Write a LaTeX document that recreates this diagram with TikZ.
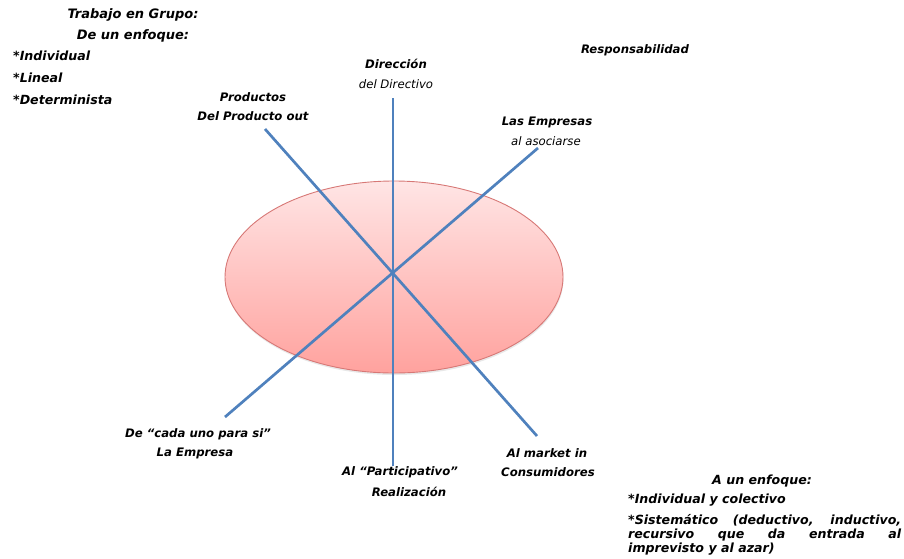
\documentclass[tikz,border=0pt]{standalone}
\usepackage{fontspec}
\setmainfont{DejaVu Sans}
\usetikzlibrary{shapes.geometric,shadows}
\definecolor{spoke}{RGB}{79,129,189}
\definecolor{elltop}{RGB}{255,229,229}
\definecolor{ellbot}{RGB}{255,162,158}
\definecolor{ellborder}{RGB}{215,120,118}
\begin{document}
\begin{tikzpicture}[x=1pt,y=-1pt,
  lbl/.style={inner sep=0pt,font=\fontsize{11.7}{13}\selectfont\bfseries\itshape},
  lblit/.style={inner sep=0pt,font=\fontsize{11.7}{13}\selectfont\itshape},
  lst/.style={inner sep=0pt,anchor=west,font=\fontsize{12.6}{14}\selectfont\bfseries\itshape},
  spokeline/.style={draw=spoke,line width=2.7pt}]
\useasboundingbox (0,0) rectangle (904,558);
% ellipse
\node (ell) [ellipse,minimum width=338pt,minimum height=192pt,inner sep=0pt,
  draw=ellborder,line width=0.9pt,top color=elltop,bottom color=ellbot,
  drop shadow={opacity=0.18,shadow xshift=0.5pt,shadow yshift=-2pt}] at (394,277) {};
% spokes
\coordinate (c) at (393,273);
\coordinate (vt) at (393,98);
\coordinate (vb) at (393,466);
\coordinate (at) at (265,129);
\coordinate (ab) at (537,436);
\coordinate (bt) at (538,148);
\coordinate (bb) at (225,417);
\draw[spokeline] (vt) -- (vb);
\draw[spokeline] (at) -- (ab);
\draw[spokeline] (bt) -- (bb);
% top-left
\node[lbl,font=\fontsize{13}{14}\selectfont\bfseries\itshape] (t1) at (133,15) {Trabajo en Grupo:};
\node[lbl,font=\fontsize{13}{14}\selectfont\bfseries\itshape] (t2) at (133,36) {De un enfoque:};
\node[lst] (l1) at (13,56) {*Individual};
\node[lst] (l2) at (13,78) {*Lineal};
\node[lst] (l3) at (13,100) {*Determinista};
% labels
\node[lbl] (p1) at (253,97) {Productos};
\node[lbl] (p2) at (253,116) {Del Producto out};
\node[lbl] (d1) at (396,64) {Dirección};
\node[lblit] (d2) at (396,84) {del Directivo};
\node[lbl] (r1) at (635,50) {Responsabilidad};
\node[lbl] (e1) at (547,122) {Las Empresas};
\node[lblit] (e2) at (546,141) {al asociarse};
\node[lbl] (c1) at (198,434) {De “cada uno para si”};
\node[lbl] (c2) at (195,453) {La Empresa};
\node[lbl] (pa1) at (400,472) {Al “Participativo”};
\node[lbl] (pa2) at (409,492) {Realización};
\node[lbl] (m1) at (547,453) {Al market in};
\node[lbl] (m2) at (548,472) {Consumidores};
% bottom-right
\node[lbl,font=\fontsize{12.6}{14}\selectfont\bfseries\itshape] (a1) at (762,481) {A un enfoque:};
\node[lst] (a2) at (628,500) {*Individual y colectivo};
\node[lst,anchor=north west,text width=273pt,align=justify] (a3) at (628,514)
  {*Sistemático (deductivo, inductivo,\linebreak recursivo que da entrada al\linebreak imprevisto y al azar)};
\end{tikzpicture}
\end{document}
